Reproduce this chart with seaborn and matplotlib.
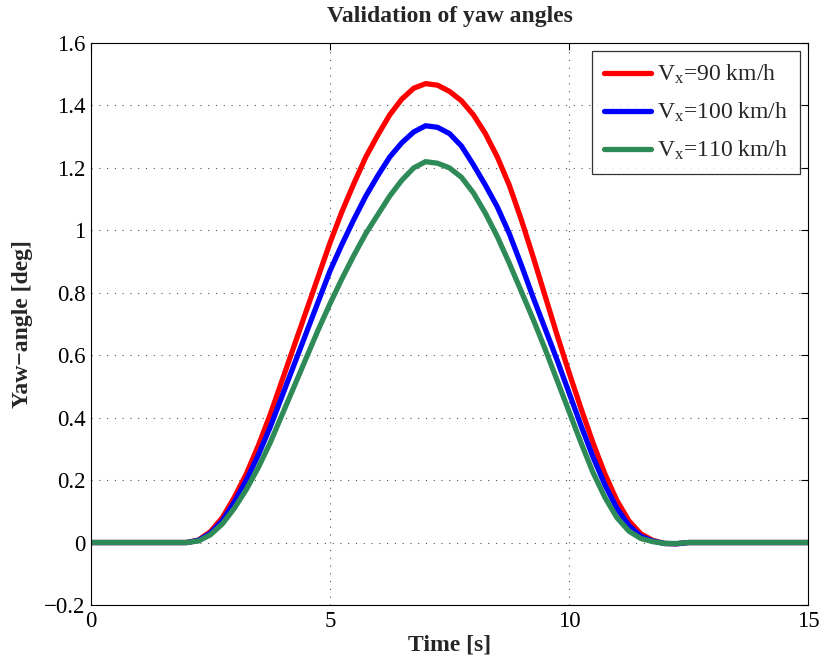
# Validation of yaw angles - recreated with seaborn

import numpy as np
import pandas as pd
import matplotlib
matplotlib.use("Agg")
import matplotlib.pyplot as plt
import seaborn as sns

# Data

time_s = [0.0, 1.0, 2.0, 2.25, 2.5, 2.75, 3.0, 3.25, 3.5, 3.75, 4.0, 4.25,
          4.5, 4.75, 5.0, 5.25, 5.5, 5.75, 6.0, 6.25, 6.5, 6.75, 7.0, 7.25,
          7.5, 7.75, 8.0, 8.25, 8.5, 8.75, 9.0, 9.25, 9.5, 9.75, 10.0, 10.25,
          10.5, 10.75, 11.0, 11.25, 11.5, 11.75, 12.0, 12.25, 12.5, 13.0,
          14.0, 15.0]

yaw_90 = [0.0, 0.0, 0.0, 0.008, 0.035, 0.08, 0.145, 0.22, 0.31, 0.41, 0.52,
          0.63, 0.74, 0.85, 0.96, 1.06, 1.15, 1.235, 1.305, 1.37, 1.42,
          1.455, 1.47, 1.465, 1.445, 1.415, 1.37, 1.31, 1.235, 1.145, 1.035,
          0.915, 0.79, 0.665, 0.545, 0.43, 0.32, 0.22, 0.135, 0.07, 0.028,
          0.007, -0.003, -0.004, 0.0, 0.0, 0.0, 0.0]

yaw_100 = [0.0, 0.0, 0.0, 0.007, 0.03, 0.07, 0.13, 0.20, 0.28, 0.37, 0.47,
           0.57, 0.67, 0.77, 0.87, 0.955, 1.035, 1.11, 1.175, 1.235, 1.28,
           1.315, 1.335, 1.33, 1.31, 1.27, 1.21, 1.145, 1.075, 0.99, 0.89,
           0.785, 0.685, 0.585, 0.48, 0.375, 0.275, 0.185, 0.11, 0.055, 0.02,
           0.005, -0.003, -0.004, 0.0, 0.0, 0.0, 0.0]

yaw_110 = [0.0, 0.0, 0.0, 0.005, 0.025, 0.06, 0.11, 0.17, 0.24, 0.32, 0.41,
           0.50, 0.59, 0.68, 0.765, 0.845, 0.92, 0.99, 1.05, 1.11, 1.16,
           1.20, 1.22, 1.215, 1.20, 1.17, 1.12, 1.055, 0.98, 0.895, 0.805,
           0.715, 0.62, 0.52, 0.42, 0.32, 0.225, 0.145, 0.08, 0.037, 0.013,
           0.003, -0.003, -0.003, 0.0, 0.0, 0.0, 0.0]

series_names = [r"$\mathregular{V_x}$=90 km/h",
                r"$\mathregular{V_x}$=100 km/h",
                r"$\mathregular{V_x}$=110 km/h"]
series_colors = ["#ff0000", "#0000ff", "#2e8b57"]

x_ticks = [0, 5, 10, 15]
y_ticks = [-0.2, 0, 0.2, 0.4, 0.6, 0.8, 1.0, 1.2, 1.4, 1.6]
y_tick_labels = ["\u22120.2", "0", "0.2", "0.4", "0.6", "0.8", "1", "1.2",
                 "1.4", "1.6"]

# Long-form table for seaborn

df = pd.concat([
    pd.DataFrame({"Time": time_s, "Yaw": vals, "Speed": name})
    for name, vals in zip(series_names, [yaw_90, yaw_100, yaw_110])
], ignore_index=True)

# Style

sns.set_style("white")
plt.rcParams["font.family"] = ["Liberation Serif", "DejaVu Serif"]
plt.rcParams["mathtext.fontset"] = "custom"
plt.rcParams["mathtext.rm"] = "Liberation Serif"
plt.rcParams["mathtext.it"] = "Liberation Serif:italic"

fig = plt.figure(figsize=(8.21, 6.64), dpi=100)
ax = fig.add_axes([0.1108, 0.0889, 0.8734, 0.8463])

sns.lineplot(
    data=df,
    x="Time",
    y="Yaw",
    hue="Speed",
    palette=series_colors,
    estimator=None,
    sort=False,
    linewidth=3.8,
    ax=ax
)

ax.set_xlim(0, 15)
ax.set_ylim(-0.2, 1.6)
ax.set_xticks(x_ticks)
ax.set_xticklabels([str(t) for t in x_ticks])
ax.set_yticks(y_ticks)
ax.set_yticklabels(y_tick_labels)

ax.grid(True, linestyle=(0, (1, 6)), color="#555555", linewidth=0.8)
ax.tick_params(direction="in", length=5, width=0.8, top=True, right=True,
               labelsize=16.5, colors="black", pad=4)
for side in ax.spines.values():
    side.set_color("black")
    side.set_linewidth(0.8)

ax.set_title("Validation of yaw angles", fontsize=17, fontweight="bold",
             pad=15)
ax.set_xlabel("Time [s]", fontsize=17, fontweight="bold", labelpad=2)
ax.set_ylabel("Yaw\u2212angle [deg]", fontsize=17, fontweight="bold",
              labelpad=8)

leg = ax.legend(
    loc="upper right",
    fontsize=17,
    frameon=True,
    fancybox=False,
    handlelength=2.0,
    borderaxespad=0.35,
    labelspacing=0.62,
    borderpad=0.5,
    handletextpad=0.25
)
leg.get_frame().set_edgecolor("black")
leg.get_frame().set_linewidth(0.9)
for line in leg.get_lines():
    line.set_linewidth(3.8)

fig.savefig("out.png", dpi=100)
